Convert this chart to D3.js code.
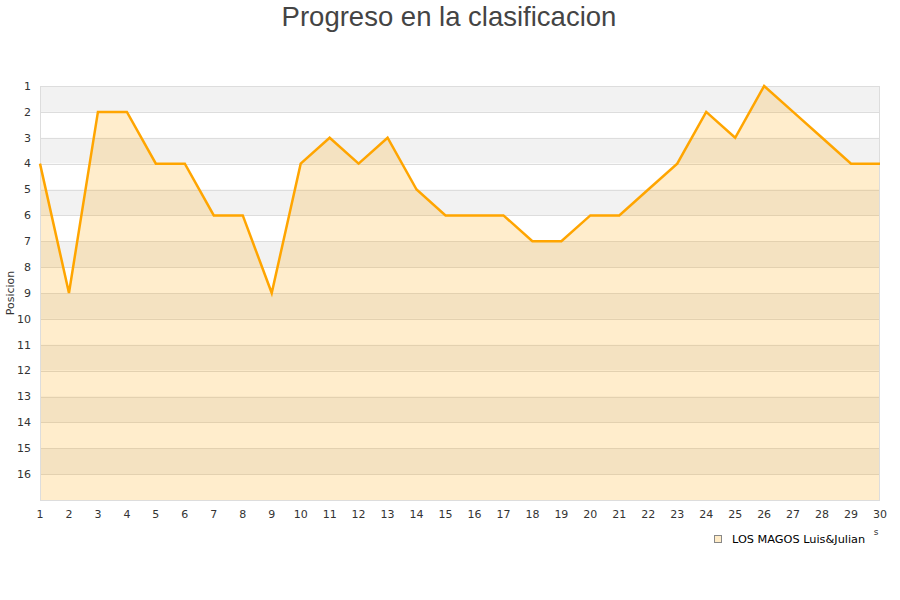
<!DOCTYPE html>
<html>
<head>
<meta charset="utf-8">
<script src="https://cdn.jsdelivr.net/npm/d3@7"></script>
<style>
  body { margin: 0; background: #fff; }
  svg { display: block; }
</style>
</head>
<body>
<svg id="chart" width="900" height="600"></svg>
<script>
// jornadas y posiciones
var jornadas = d3.range(1, 31);
var posiciones = [4, 9, 2, 2, 4, 4, 6, 6, 9, 4, 3, 4, 3, 5, 6, 6, 6, 7, 7, 6, 6, 5, 4, 2, 3, 1, 2, 3, 4, 4];
var yTicks = d3.range(1, 17);
var serieNombre = 'LOS MAGOS Luis&Julian';
var titulo = 'Progreso en la clasificacion';

var svg = d3.select('#chart');
var plotLeft = 40, plotRight = 880, plotTop = 86, plotBottom = 500;

var x = d3.scaleLinear().domain([1, 30]).range([plotLeft, plotRight]);
var y = d3.scaleLinear().domain([1, 17]).range([plotTop, plotBottom]);

// bandas alternas
svg.append('g')
    .selectAll('rect')
    .data(d3.range(1, 17))
    .join('rect')
    .attr('x', plotLeft)
    .attr('y', d => y(d))
    .attr('width', plotRight - plotLeft)
    .attr('height', d => y(d + 1) - y(d))
    .attr('fill', d => d % 2 == 1 ? '#f2f2f2' : '#ffffff');

// lineas de grilla
svg.append('g')
    .selectAll('line')
    .data(d3.range(2, 17))
    .join('line')
    .attr('x1', plotLeft).attr('x2', plotRight)
    .attr('y1', d => Math.round(y(d)) + 0.5).attr('y2', d => Math.round(y(d)) + 0.5)
    .attr('stroke', '#dddddd')
    .attr('stroke-width', 1);

var data = jornadas.map((j, i) => ({j: j, p: posiciones[i]}));

// area
svg.append('path')
    .datum(data)
    .attr('fill', '#ffa500')
    .attr('fill-opacity', 0.2)
    .attr('d', d3.area().x(d => x(d.j)).y0(y(17)).y1(d => y(d.p)));

// borde
svg.append('rect')
    .attr('x', plotLeft + 0.5).attr('y', plotTop + 0.5)
    .attr('width', plotRight - plotLeft - 1).attr('height', plotBottom - plotTop)
    .attr('fill', 'none')
    .attr('stroke', '#dddddd');

// linea
svg.append('path')
    .datum(data)
    .attr('fill', 'none')
    .attr('stroke', '#ffa500')
    .attr('stroke-width', 2.5)
    .attr('d', d3.line().x(d => x(d.j)).y(d => y(d.p)));

// eje y
svg.append('g')
    .style('font', '11px "DejaVu Sans"')
    .attr('fill', '#333')
    .attr('text-anchor', 'end')
    .selectAll('text')
    .data(yTicks)
    .join('text')
    .attr('x', 31)
    .attr('y', d => y(d))
    .attr('dy', '0.35em')
    .text(d => d);

// eje x
svg.append('g')
    .style('font', '11px "DejaVu Sans"')
    .attr('fill', '#333')
    .attr('text-anchor', 'middle')
    .selectAll('text')
    .data(jornadas)
    .join('text')
    .attr('x', d => x(d))
    .attr('y', 518)
    .text(d => d);

svg.append('text')
    .attr('transform', 'translate(14,293) rotate(-90)')
    .attr('text-anchor', 'middle')
    .style('font', '11px "DejaVu Sans"')
    .attr('fill', '#333')
    .text('Posicion');

svg.append('text')
    .attr('x', 876).attr('y', 535)
    .attr('text-anchor', 'middle')
    .style('font', '9px "DejaVu Sans"')
    .attr('fill', '#333')
    .text('s');

// titulo
svg.append('text')
    .attr('x', 449).attr('y', 26)
    .attr('text-anchor', 'middle')
    .style('font', '27.5px "Liberation Sans"')
    .attr('fill', '#444')
    .text(titulo);

// leyenda
var legend = svg.append('g').attr('transform', 'translate(714,535)');
legend.append('rect')
    .attr('x', 0.5).attr('y', 0.5)
    .attr('width', 7).attr('height', 7)
    .attr('fill', '#ffecc8')
    .attr('stroke', '#888');
legend.append('text')
    .attr('x', 18).attr('y', 8)
    .style('font', '11.3px "DejaVu Sans"')
    .attr('fill', '#000')
    .text(serieNombre);
</script>
</body>
</html>
